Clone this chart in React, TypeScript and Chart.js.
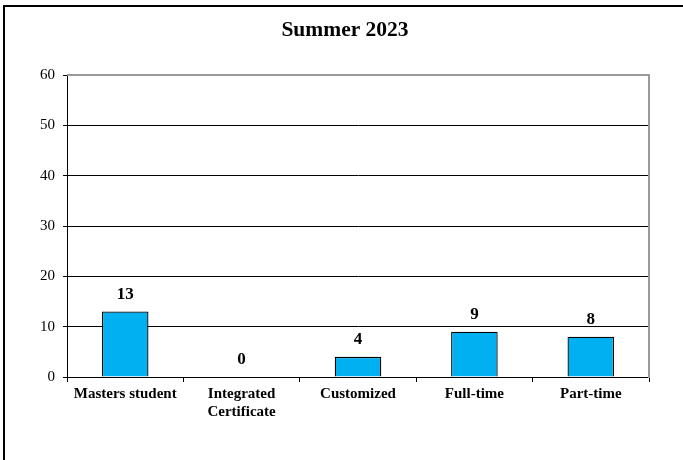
import React, { useEffect, useRef } from "react";
import { Chart, registerables } from "chart.js";

Chart.register(...registerables);

const TITLE = "Summer 2023";
const categories: (string | string[])[] = [
  "Masters student",
  ["Integrated", "Certificate"],
  "Customized",
  "Full-time",
  "Part-time",
];
const values: number[] = [13, 0, 4, 9, 8];
const yTicks: number[] = [0, 10, 20, 30, 40, 50, 60];

const FONT = "'Liberation Serif', 'Times New Roman', serif";

const decorPlugin = {
  id: "decor",
  beforeDraw(chart: any) {
    const { ctx } = chart;
    ctx.save();
    ctx.fillStyle = "#ffffff";
    ctx.fillRect(0, 0, chart.width, chart.height);
    ctx.strokeStyle = "#000000";
    ctx.lineWidth = 2;
    ctx.strokeRect(4, 6, chart.width + 20, chart.height + 20);
    ctx.fillStyle = "#000000";
    ctx.font = `bold 21.5px ${FONT}`;
    ctx.textAlign = "center";
    ctx.textBaseline = "middle";
    ctx.fillText(TITLE, 345, 30);
    ctx.restore();
  },
  afterDraw(chart: any) {
    const { ctx, chartArea } = chart;
    ctx.save();
    ctx.strokeStyle = "#9a9a9a";
    ctx.lineWidth = 2;
    ctx.beginPath();
    ctx.moveTo(chartArea.left, chartArea.top);
    ctx.lineTo(chartArea.right, chartArea.top);
    ctx.lineTo(chartArea.right, chartArea.bottom + 1);
    ctx.stroke();
    ctx.restore();
  },
  afterDatasetsDraw(chart: any) {
    const { ctx } = chart;
    const meta = chart.getDatasetMeta(0);
    ctx.save();
    ctx.fillStyle = "#000000";
    ctx.font = `bold 17px ${FONT}`;
    ctx.textAlign = "center";
    ctx.textBaseline = "middle";
    meta.data.forEach((bar: any, i: number) => {
      ctx.fillText(String(values[i]), bar.x, bar.y - 17);
    });
    ctx.restore();
  },
};

export default function App() {
  const ref = useRef<HTMLCanvasElement | null>(null);
  useEffect(() => {
    if (!ref.current) return;
    const chart = new Chart(ref.current, {
      type: "bar",
      data: {
        labels: categories,
        datasets: [
          {
            data: values,
            backgroundColor: "#00B0F0",
            borderColor: "#000000",
            borderWidth: 1.3,
            barPercentage: 0.4,
            categoryPercentage: 1,
          },
        ],
      },
      options: {
        responsive: false,
        animation: false,
        devicePixelRatio: 1,
        layout: { padding: { left: 0, right: 34, top: 75, bottom: 0 } },
        plugins: {
          legend: { display: false },
          tooltip: { enabled: false },
          title: { display: false },
        },
        scales: {
          x: {
            grid: {
              offset: true,
              drawOnChartArea: false,
              drawTicks: true,
              tickLength: 5,
              color: "#000000",
            },
            border: { color: "#000000", width: 1 },
            ticks: {
              color: "#000000",
              font: { family: FONT, size: 15, weight: "bold" },
              padding: 3,
              maxRotation: 0,
              autoSkip: false,
            },
            afterFit(scale: any) {
              scale.height = 83;
            },
          },
          y: {
            min: 0,
            max: 60,
            afterBuildTicks(scale: any) {
              scale.ticks = yTicks.map((v) => ({ value: v }));
            },
            grid: {
              color: (c: any) => (c.tick && c.tick.value === 60 ? "rgba(0,0,0,0)" : "#000000"),
              tickColor: "#000000",
              tickLength: 4,
              lineWidth: 1,
            },
            border: { color: "#000000", width: 1 },
            ticks: {
              color: "#000000",
              font: { family: FONT, size: 15 },
              padding: 8,
            },
            afterFit(scale: any) {
              scale.width = 67;
            },
          },
        },
      },
      plugins: [decorPlugin],
    });
    return () => chart.destroy();
  }, []);
  return (
    <div style={{ position: "fixed", left: 0, top: 0, width: 683, height: 460, background: "#fff" }}>
      <canvas ref={ref} width={683} height={460} style={{ display: "block" }} />
    </div>
  );
}
